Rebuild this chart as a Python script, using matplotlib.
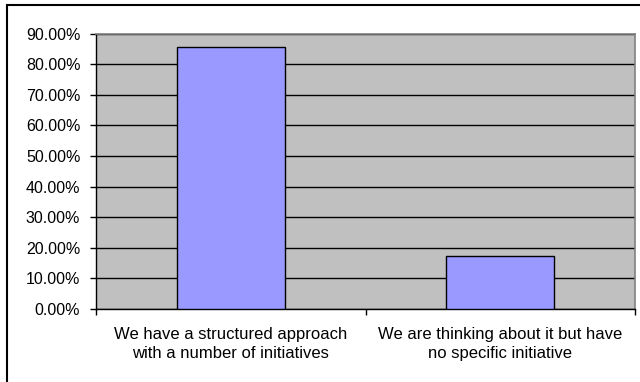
import numpy as np
import matplotlib
matplotlib.use("Agg")
import matplotlib.pyplot as plt
from matplotlib.patches import Rectangle
from matplotlib.ticker import FuncFormatter

plt.rcParams["font.family"] = ["Liberation Sans", "DejaVu Sans"]

# ---- data ----
categories = ["We have a structured approach\nwith a number of initiatives",
              "We are thinking about it but have\nno specific initiative"]
values = [85.7, 17.4]
yticks = [0, 10, 20, 30, 40, 50, 60, 70, 80, 90]

# ---- palette ----
BAR   = "#9999FF"
PLOT  = "#C0C0C0"
FRAME = "#808080"
INK   = "#000000"

fig = plt.figure(figsize=(6.4, 3.82), dpi=100)
fig.patch.set_facecolor("white")
ax = fig.add_axes([96/640, 1 - 309/382, 539/640, 275.5/382])
ax.set_facecolor(PLOT)

x = np.arange(len(categories))
ax.bar(x, values, width=0.4, color=BAR, edgecolor=INK, linewidth=1.0, zorder=3)

ax.set_xlim(-0.5, len(categories) - 0.5)
ax.set_ylim(0, 90)
ax.set_yticks(yticks)
ax.yaxis.set_major_formatter(FuncFormatter(lambda v, p: f"{v:.2f}%"))
ax.yaxis.grid(True, color=INK, linewidth=1.0, zorder=1)
ax.set_axisbelow(True)

# category labels between boundary ticks
ax.set_xticks(x)
ax.set_xticklabels(categories, fontsize=12, linespacing=1.3)
ax.tick_params(axis="x", which="major", length=0, pad=13)
ax.set_xticks(np.arange(-0.5, len(categories)), minor=True)
ax.tick_params(axis="x", which="minor", length=4.3, width=1, color=INK, direction="out")
ax.tick_params(axis="y", length=4.3, width=1, color=INK, direction="out", labelsize=11.5, pad=7)

for s in ["top", "right"]:
    ax.spines[s].set_color(FRAME)
    ax.spines[s].set_linewidth(1.2)
ax.spines["left"].set_color(INK)
ax.spines["bottom"].set_color(INK)
ax.spines["left"].set_linewidth(1.0)
ax.spines["bottom"].set_linewidth(1.0)

# outer chart frame
fig.patches.append(Rectangle((7/640, -0.05), 1.0, 1 - 5/382 + 0.05,
                             transform=fig.transFigure, fill=False,
                             edgecolor=INK, linewidth=1.5))

fig.savefig("out.png", dpi=100, facecolor="white")
